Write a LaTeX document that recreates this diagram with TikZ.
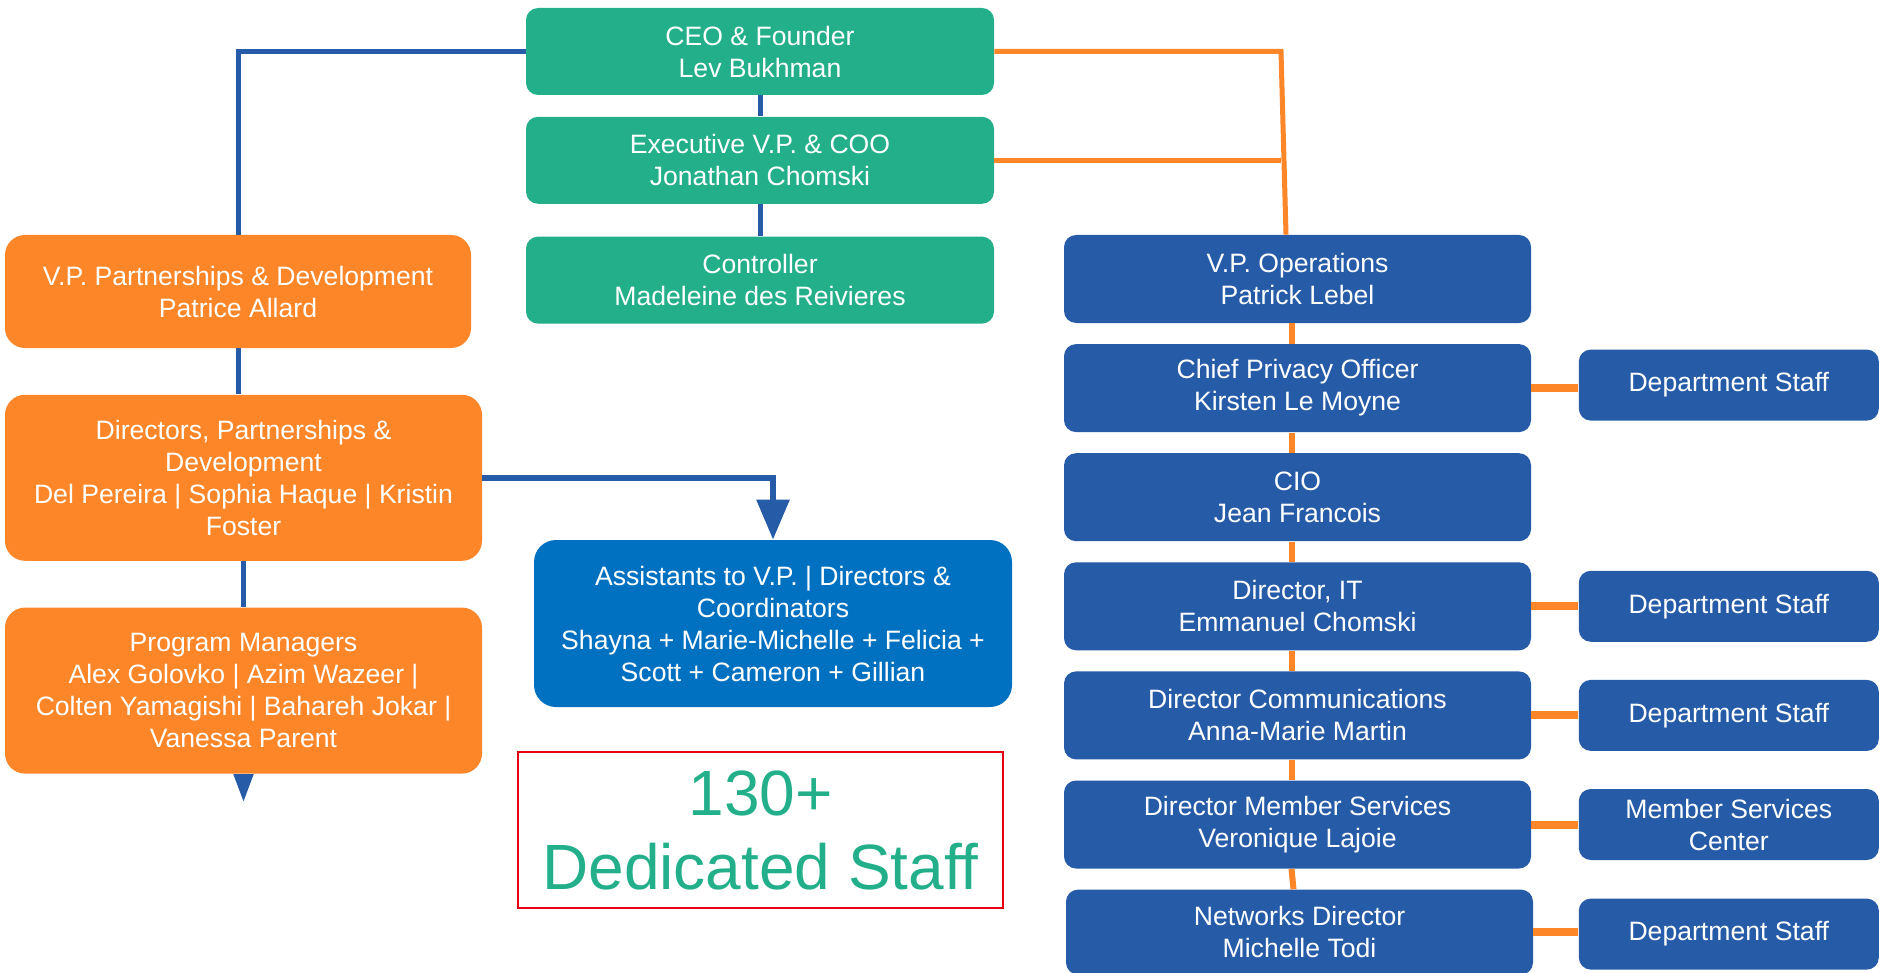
\documentclass[tikz,border=0pt]{standalone}
\usepackage{fontspec}
\setmainfont{Liberation Sans}
\usetikzlibrary{positioning,arrows.meta}
\definecolor{ceogreen}{RGB}{35,175,138}
\definecolor{opsblue}{RGB}{38,91,167}
\definecolor{devorange}{RGB}{253,134,41}
\definecolor{asstblue}{RGB}{0,112,192}
\definecolor{framered}{RGB}{232,0,18}
\begin{document}
\begin{tikzpicture}[x=0.5pt, y=-0.5pt,
  box/.style = {rounded corners=6pt, text=white, align=center, inner sep=0pt,
    font=\fontsize{13.3}{16}\selectfont},
  exec/.style = {box, fill=ceogreen, minimum width=234pt, minimum height=43.5pt},
  dev/.style = {box, fill=devorange, rounded corners=10pt, minimum width=238.5pt, minimum height=83pt},
  ops/.style = {box, fill=opsblue, minimum width=233.5pt, minimum height=44pt},
  dept/.style = {box, fill=opsblue, minimum width=150pt, minimum height=35.5pt},
  bline/.style = {draw=opsblue, line width=2.5pt},
  oline/.style = {draw=devorange, line width=2.5pt}]
  \useasboundingbox (0,0) rectangle (1883,973);

  % executive column
  \node[exec] (ceo) at (760,51.5) {CEO \& Founder\\Lev Bukhman};
  \node[exec] (coo) [below=10.5pt of ceo] {Executive V.P. \& COO\\Jonathan Chomski};
  \node[exec] (ctrl) [below=16pt of coo] {Controller\\Madeleine des Reivieres};

  % partnerships
  \node[dev, minimum width=233pt, minimum height=56.5pt] (vpp) at (238,291.5) {V.P. Partnerships \& Development\\Patrice Allard};
  \node[dev] (dirp) [below right=23pt and 0pt of vpp.south west] {Directors, Partnerships \&\\Development\\Del Pereira | Sophia Haque | Kristin\\Foster};
  \node[dev] (pm) [below right=23pt and 0pt of dirp.south west] {Program Managers\\Alex Golovko | Azim Wazeer |\\Colten Yamagishi | Bahareh Jokar |\\Vanessa Parent};
  \node[box, fill=asstblue, rounded corners=11pt, minimum width=239pt, minimum height=83.5pt] (asst) at (773,623.5) {Assistants to V.P. | Directors \&\\Coordinators\\Shayna + Marie-Michelle + Felicia +\\Scott + Cameron + Gillian};
  \node[draw=framered, line width=1.2pt, minimum width=242.5pt, minimum height=78pt, text=ceogreen, align=center,
    font=\fontsize{32}{37}\selectfont] (total) at (760.5,830) {130+\\Dedicated Staff};

  % operations
  \node[ops] (vpops) at (1297.5,279) {V.P. Operations\\Patrick Lebel};
  \node[ops] (cpo) [below=10.15pt of vpops] {Chief Privacy Officer\\Kirsten Le Moyne};
  \node[ops] (cio) [below=10.15pt of cpo] {CIO\\Jean Francois};
  \node[ops] (dirit) [below=10.15pt of cio] {Director, IT\\Emmanuel Chomski};
  \node[ops] (comms) [below=10.15pt of dirit] {Director Communications\\Anna-Marie Martin};
  \node[ops] (memsvc) [below=10.15pt of comms] {Director Member Services\\Veronique Lajoie};
  \node[ops, minimum height=42.5pt] (netdir) [below=10.15pt of memsvc, xshift=1pt] {Networks Director\\Michelle Todi};

  \node[dept] (staffcpo) [right=23.5pt of cpo, yshift=1.5pt] {Department Staff};
  \node[dept] (staffit) [right=23.5pt of dirit] {Department Staff};
  \node[dept] (staffcomms) [right=23.5pt of comms] {Department Staff};
  \node[dept] (msc) [right=23.5pt of memsvc] {Member Services\\Center};
  \node[dept] (staffnet) [right=23.5pt of netdir, xshift=-1pt, yshift=-1pt] {Department Staff};

  \coordinate (obend) at (1281,0);
  \coordinate (pmtip) at ([yshift=-14pt]pm.south);

  \draw[bline] (ceo.west) -| (vpp.north);
  \draw[bline] (ceo) -- (coo);
  \draw[bline] (coo) -- (ctrl);
  \draw[bline] (vpp.south) -- (vpp.south |- dirp.north);
  \draw[bline] (dirp.south) -- (pm.north);
  \draw[bline, -{Triangle[width=9.5pt,length=14pt]}] (pm.south) -- (pmtip);
  \draw[bline, line width=3pt, -{Triangle[width=16pt,length=20pt]}] (dirp.east) -| (asst.north);

  \draw[oline] (ceo.east) -- (ceo.east -| obend) -- ([xshift=-5.75pt]vpops.north);
  \draw[oline] (coo.east) -- (coo.east -| obend);
  \foreach \a/\b in {vpops/cpo, cpo/cio, cio/dirit, dirit/comms, comms/memsvc, memsvc/netdir}
    \draw[oline, line width=3pt] ([xshift=-3pt]\a.south) -- ([xshift=-3pt]\b.north);
  \foreach \a/\b in {cpo/staffcpo, dirit/staffit, comms/staffcomms, memsvc/msc, netdir/staffnet}
    \draw[oline, line width=4pt] (\a.east) -- (\a.east -| \b.west);
\end{tikzpicture}
\end{document}
